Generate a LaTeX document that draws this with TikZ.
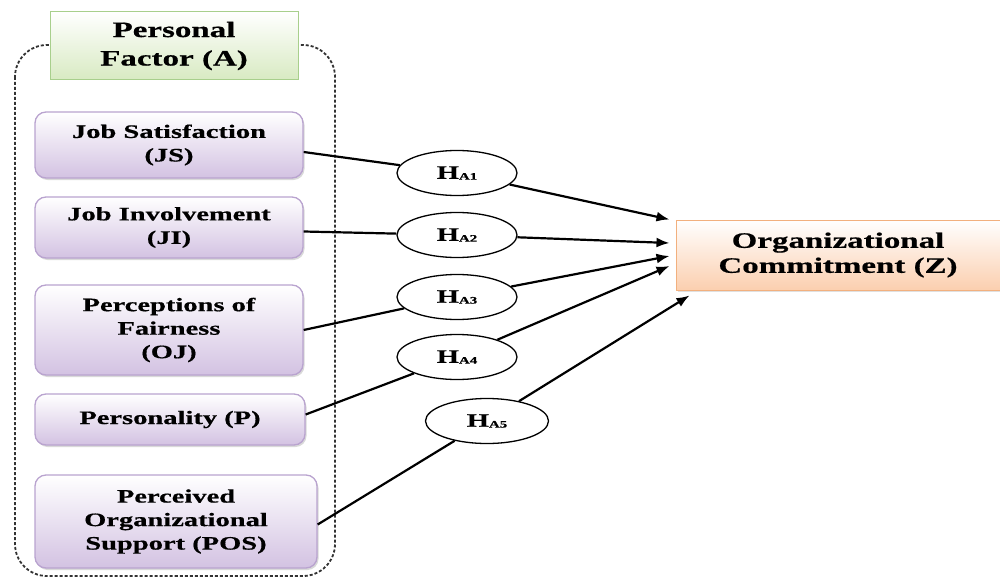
\documentclass[tikz,border=0pt]{standalone}
\usepackage{fontspec}
\setmainfont{Liberation Serif}[FakeStretch=1.5,BoldFeatures={FakeBold=0.6}]
\usetikzlibrary{shapes.geometric,calc,shadows,arrows.meta}
\definecolor{pbord}{HTML}{B9A3CF}
\definecolor{pbot}{HTML}{D3C2E2}
\definecolor{gbord}{HTML}{A8CF8C}
\definecolor{gbot}{HTML}{D8EAC2}
\definecolor{obord}{HTML}{F2B07E}
\definecolor{obot}{HTML}{FBCFAF}
\begin{document}
\begin{tikzpicture}[x=1pt,y=-1pt,
  pbox/.style={draw=pbord, line width=1.3pt, rounded corners=11pt, top color=white, bottom color=pbot,
     minimum width=268pt, align=center, font=\fontsize{19}{23.5}\selectfont\bfseries,
     drop shadow={shadow xshift=1.5pt,shadow yshift=-2pt,fill=black!25,opacity=0.6}},
  hell/.style={draw, ellipse, line width=1.3pt, minimum width=120pt, minimum height=45pt, fill=white,
     inner sep=0pt, font=\fontsize{19}{21}\selectfont\bfseries},
  lnk/.style={line width=2.2pt},
  arr/.style={line width=2.2pt, -{Latex[length=13pt,width=10pt]}}
]
\newcommand{\hsub}[1]{H\raisebox{-0.1ex}{\fontsize{10}{11}\selectfont #1}}
\useasboundingbox (0,0) rectangle (1000,580);
% dashed group frame
\draw[black!80, line width=1.8pt, dash pattern=on 3pt off 2pt, rounded corners=32pt]
  (15,45) rectangle (335,576);
% group label
\node[draw=gbord, line width=1pt, top color=white, bottom color=gbot, minimum width=248pt, minimum height=68pt,
  align=center, font=\fontsize{22}{28.5}\selectfont\bfseries] (A) at (174,46) {Personal\\Factor (A)};
% factor boxes
\node[pbox, minimum height=66pt] (JS) at (169,145) {Job Satisfaction\\(JS)};
\node[pbox, minimum height=61pt] (JI) at (169,227.5) {Job Involvement\\(JI)};
\node[pbox, minimum height=90pt] (OJ) at (169,330) {Perceptions of\\Fairness\\(OJ)};
\node[pbox, minimum height=51pt, minimum width=270pt] (P) at (170,419.5) {Personality (P)};
\node[pbox, minimum height=93pt, minimum width=282pt] (POS) at (176,521.5) {Perceived\\Organizational\\Support (POS)};
% outcome
\node[draw=obord, line width=1pt, top color=white, bottom color=obot, minimum width=324pt, minimum height=70pt,
  align=center, font=\fontsize{22}{25}\selectfont\bfseries,
  drop shadow={shadow xshift=1.5pt,shadow yshift=-2pt,fill=black!20,opacity=0.6}] (Z) at (838,255) {Organizational\\Commitment (Z)};
% hypotheses
\node[hell] (H1) at (457,173) {\hsub{A1}};
\node[hell] (H2) at (457,235) {\hsub{A2}};
\node[hell] (H3) at (457,297) {\hsub{A3}};
\node[hell] (H4) at (457,357) {\hsub{A4}};
\node[hell, minimum width=123pt] (H5) at (487,421) {\hsub{A5}};
% arrow targets
\coordinate (z1) at ($(Z.north west)+(-6,0)$);
\coordinate (z2) at ($(Z.west)+(-6,-12)$);
\coordinate (z3) at ($(Z.west)+(-6,1)$);
\coordinate (z4) at ($(Z.west)+(-6,11)$);
\coordinate (z5) at ($(Z.south west)+(14,5)$);
\draw[lnk] ($(JS.east)+(0,7)$) -- (H1);
\draw[arr] (H1) -- (z1);
\draw[lnk] ($(JI.east)+(0,4)$) -- (H2);
\draw[arr] (H2) -- (z2);
\draw[lnk] (OJ.east) -- (H3);
\draw[arr] (H3) -- (z3);
\draw[lnk] ($(P.east)+(0,-5)$) -- (H4);
\draw[arr] (H4) -- (z4);
\draw[lnk] ($(POS.east)+(0,3)$) -- (H5);
\draw[arr] (H5) -- (z5);
\end{tikzpicture}
\end{document}
